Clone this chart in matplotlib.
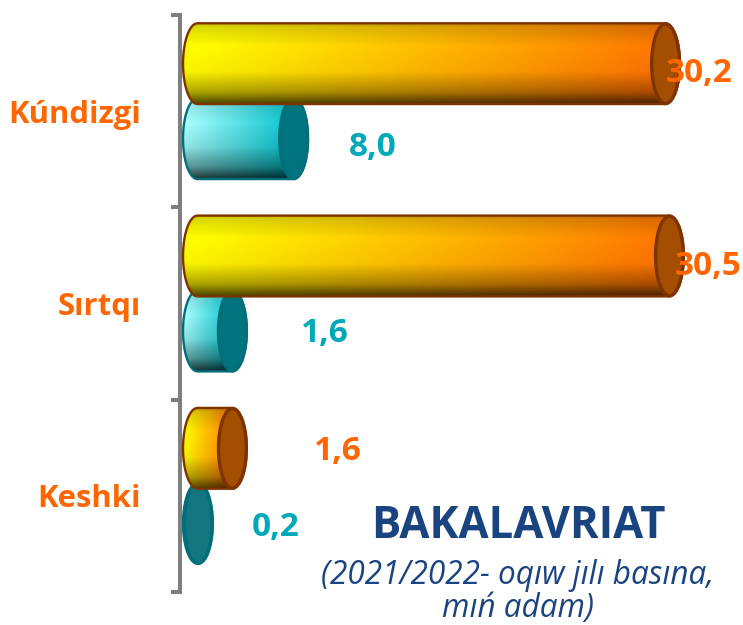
# Horizontal "3D cylinder" bar chart, bakalavriat student numbers
import matplotlib
matplotlib.use('Agg')
import matplotlib.pyplot as plt
from matplotlib.patches import Ellipse, Polygon
import numpy as np

plt.rcParams['font.family'] = ['Open Sans', 'DejaVu Sans']

categories = ['Kúndizgi', 'Sırtqı', 'Keshki']
# printed labels
labels_orange = ['30,2', '30,5', '1,6']
labels_teal = ['8,0', '1,6', '0,2']
# bar lengths (the drawn bars do not follow the labels exactly)
lengths_orange = [30.2, 30.45, 2.25]
lengths_teal = [6.2, 2.25, 0.05]

ORANGE = '#FF6600'
TEAL = '#00A9B8'
NAVY = '#1A4480'
teal_faces = ['#00757F', '#00757F', '#14777F']

# offsets of the value labels from the end of each bar, pixels
offs_orange = [(34, -10), (39, -11), (105, -3)]
offs_teal = [(79, -9), (92, -2), (77, -4)]

bar_h = 0.42
cap_w = 0.935
orange_shift = -0.247
teal_shift = 0.143


def shade(u_left, u_right, t_pts, s_pts):
    # colour ramp along the bar times dark/bright bands across it
    xx, yy = np.meshgrid(np.linspace(0, 1, 300), np.linspace(0, 1, 120))
    u = np.clip(xx + 0.12 * (yy - 0.5), 0, 1)[..., None]
    rgb = (1 - u) * np.array(u_left) + u * np.array(u_right)
    s = np.interp(yy, t_pts, s_pts)[..., None]
    return np.clip(rgb * s, 0, 255).astype(np.uint8)


def cylinder(ax, length, yc, left, right, t_pts, s_pts, edge, face, z):
    th_l = np.linspace(np.pi / 2, 3 * np.pi / 2, 40)
    th_r = np.linspace(-np.pi / 2, np.pi / 2, 40)
    xs = np.r_[cap_w * np.cos(th_l), length + cap_w * np.cos(th_r)]
    ys = yc - bar_h / 2 * np.r_[np.sin(th_l), np.sin(th_r)]
    body = Polygon(np.column_stack([xs, ys]), closed=True, facecolor='none', edgecolor=edge, lw=1.7, zorder=z + 0.2)
    ax.add_patch(body)
    # ramp ends where the cap starts, anything further is hidden anyway
    im = ax.imshow(shade(left, right, t_pts, s_pts), extent=[-cap_w, length, yc + bar_h / 2, yc - bar_h / 2],
                   aspect='auto', interpolation='bilinear', zorder=z)
    im.set_clip_path(body)
    ax.add_patch(Ellipse((length, yc), 2 * cap_w - 0.08, bar_h - 0.006, facecolor=face, edgecolor=edge, lw=2.4, zorder=z + 0.3))


fig = plt.figure(figsize=(7.43, 6.25), dpi=100, facecolor='white')
ax = fig.add_axes([180 / 743, (625 - 592) / 625, (743 - 180) / 743, (592 - 15) / 625])

ypos = np.arange(len(categories))
for i in ypos:
    cylinder(ax, lengths_teal[i], i + teal_shift, (170, 255, 255), (0, 195, 205),
             [0, .08, .3, .6, .85, 1], [.75, .9, 1, .9, .6, .22], '#006F7A', teal_faces[i], 2)
    cylinder(ax, lengths_orange[i], i + orange_shift, (255, 255, 0), (255, 115, 0),
             [0, .04, .28, .6, .85, 1], [.72, .85, 1, .97, .68, .3], '#7F3300', '#A34E00', 4)
    ax.annotate(labels_orange[i], (lengths_orange[i], i + orange_shift), xytext=offs_orange[i],
                textcoords='offset pixels', color=ORANGE, fontsize=24, fontweight='bold',
                ha='center', va='center', zorder=8)
    ax.annotate(labels_teal[i], (lengths_teal[i], i + teal_shift), xytext=offs_teal[i],
                textcoords='offset pixels', color=TEAL, fontsize=24, fontweight='bold',
                ha='center', va='center', zorder=8)

ax.set_xlim(-1.13, 35.2)
ax.set_ylim(2.5, -0.5)
ax.set_xticks([])
ax.set_yticks(ypos)
ax.set_yticks(np.arange(-0.5, 3), minor=True)
ax.set_yticklabels(categories, color=ORANGE, fontsize=22.4, fontweight='bold')
ax.tick_params(axis='y', which='major', length=0, pad=28)
ax.tick_params(axis='y', which='minor', length=6.5, width=2.9, color='#7F7F7F')
for side in ['top', 'right', 'bottom']:
    ax.spines[side].set_visible(False)
ax.spines['left'].set_color('#7F7F7F')
ax.spines['left'].set_linewidth(2.9)

fig.text(518 / 743, 1 - 527 / 625, 'BAKALAVRIAT', color=NAVY, fontsize=31.4, fontweight='bold', ha='center', va='center')
fig.text(518 / 743, 1 - 575 / 625, '(2021/2022- oqıw jılı basına,', color=NAVY, fontsize=22.7, style='italic', ha='center', va='center')
fig.text(518 / 743, 1 - 608 / 625, 'mıń adam)', color=NAVY, fontsize=22.7, style='italic', ha='center', va='center')

fig.savefig('out.png', dpi=100)
